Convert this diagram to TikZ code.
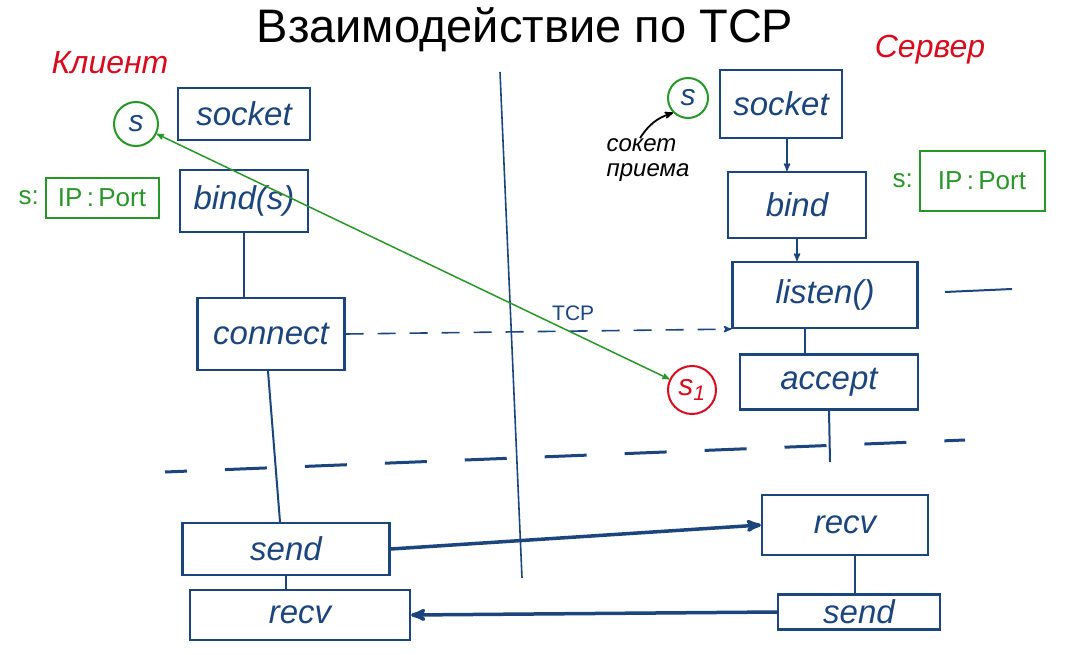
\documentclass[tikz,border=0pt]{standalone}
\usepackage{fontspec}
\setmainfont{Liberation Sans}
\usetikzlibrary{arrows,positioning}
\definecolor{ink}{RGB}{28,68,125}
\definecolor{grn}{RGB}{40,150,40}
\definecolor{rd}{RGB}{215,10,30}
\tikzstyle{fn}=[draw=ink, line width=2.2pt, text=ink, inner sep=0pt, font=\fontsize{33}{35}\selectfont\itshape]
\tikzstyle{hand}=[inner sep=0pt, font=\fontsize{32}{34}\selectfont\itshape]
\tikzstyle{addr}=[draw=grn, line width=2pt, text=grn, inner sep=0pt, minimum height=40, font=\fontsize{26}{28}\selectfont]
\tikzstyle{sk}=[circle, line width=2pt, inner sep=0pt, minimum size=44, text=ink, font=\fontsize{30}{32}\selectfont\itshape]

\begin{document}
\begin{tikzpicture}
[x=1pt, y=-1pt, thick]
\useasboundingbox (0,0) rectangle (1070,655);
\node[font=\fontsize{47}{50}\selectfont] (title) at (525,30) {Взаимодействие по TCP};
\node[hand, text=rd] (cl) at (110,63) {Клиент};
\node[hand, text=rd] (sv) at (930,50) {Сервер};

% client
\node[fn, minimum width=132, minimum height=52] (c1) at (244,114) {socket};
\node[fn, minimum width=128, minimum height=62] (c2) at (244,201) {bind(s)};
\node[fn, minimum width=147, minimum height=72] (c3) at (271,334) {connect};
\node[fn, minimum width=207, minimum height=52] (c4) at (286,549) {send};
\node[fn, minimum width=220, minimum height=50] (c5) at (300,615) {recv};
\node[sk, draw=grn] (s) at (136,124) {s};
\node[addr, minimum width=113] (cip) at (102,198) {IP\,:\,Port};
\node[text=grn, font=\fontsize{26}{28}\selectfont, left=2pt of cip] (cs) {s:};

% server
\node[fn, minimum width=122, minimum height=68] (v1) at (781,104) {socket};
\node[fn, minimum width=138, minimum height=66] (v2) at (797,205) {bind};
\node[fn, minimum width=185, minimum height=66] (v3) at (825,295) {listen()};
\node[fn, minimum width=178, minimum height=55] (v4) at (829,382) {accept};
\node[fn, minimum width=166, minimum height=60] (v5) at (845,525) {recv};
\node[fn, minimum width=162, minimum height=35] (v6) at (859,612) {send};
\node[sk, draw=grn, minimum size=40] (ls) at (688,98) {s};
\node[sk, draw=rd, text=rd, minimum size=48] (s1) at (692,390) {s\textsubscript{1}};
\node[addr, minimum width=125, minimum height=60] (vip) at (982,181) {IP\,:\,Port};
\node[text=grn, font=\fontsize{26}{28}\selectfont, left=2pt of vip] (vs) {s:};
\node[hand, align=left, font=\fontsize{24}{25}\selectfont\itshape] (lbl) at (648,160) {сокет\\приема};

\coordinate (d1) at (500,72);
\coordinate (d2) at (522,578);
\coordinate (h1) at (165,472);
\coordinate (h2) at (965,440);
\coordinate (k1) at (945,292);
\coordinate (k2) at (1012,289);
\coordinate (a1) at (830,462);

\draw[ink, line width=1.6pt] (d1) -- (d2);
\draw[ink, line width=3pt, dash pattern=on 42pt off 38pt, dash phase=20pt] (h1) -- (h2);
\draw[ink, line width=2pt] (k1) -- (k2);

\path[ink, line width=2pt]
   (c2.south) edge (c2.south |- c3.north)
   ([xshift=-3pt]c3.south) edge ([xshift=-6pt]c4.north)
   (c4.south) edge (c4.south |- c5.north)
   ([xshift=-20pt]v3.south) edge ([xshift=-20pt]v3.south |- v4.north)
   (v4.south) edge (a1)
   ([xshift=10pt]v5.south) edge ([xshift=10pt]v5.south |- v6.north);
\path[ink, line width=1.6pt, -stealth']
   ([xshift=6pt]v1.south) edge ([xshift=6pt]v1.south |- v2.north)
   (v2.south) edge (v2.south |- v3.north);
\draw[ink, line width=1.6pt, dash pattern=on 18pt off 14pt, -stealth'] (c3.east) -- node[pos=0.59, above=6pt, font=\fontsize{21}{23}\selectfont, text=ink] (tcp) {TCP} (v3.south west);
\draw[grn, line width=1.5pt, stealth'-stealth'] (s) -- (s1);
\draw[ink, line width=3.5pt, -stealth'] (c4.east) -- (v5.west);
\draw[ink, line width=3.5pt, -stealth'] (v6.west) -- (c5.east);
\draw[line width=1.8pt, -stealth'] ([xshift=-8pt]lbl.north) to[bend left=20] (ls.south west);
\end{tikzpicture}
\end{document}
